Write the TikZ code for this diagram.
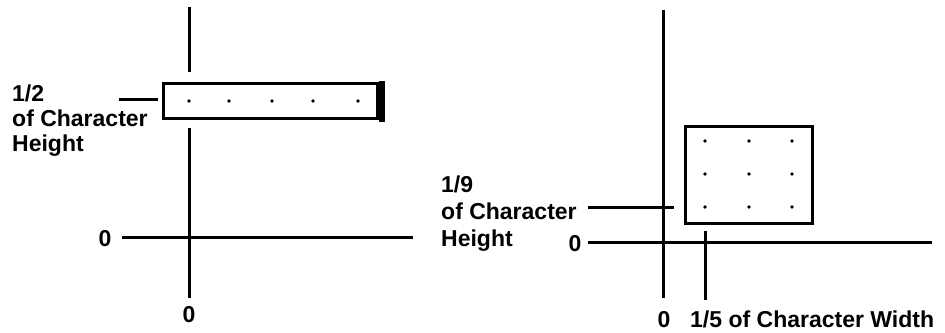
\documentclass[tikz,border=0pt]{standalone}
\usepackage{fontspec}
\setmainfont{Liberation Sans}
\usetikzlibrary{positioning}
\tikzset{every node/.append style={inner sep=0pt}}

\begin{document}
\begin{tikzpicture}[x=1pt,y=-1pt,
  axis/.style={line width=3pt},
  cell/.style={draw,line width=3pt},
  lbl/.style={font=\fontsize{23}{25}\selectfont\bfseries,align=left}]
  \useasboundingbox (0,0) rectangle (945,332);

  % superscript
  \coordinate (supup) at (189,7);
  \coordinate (supgap) at (189,72);
  \coordinate (supmid) at (189,128);
  \coordinate (supdown) at (189,298);
  \coordinate (supleft) at (122,237);
  \coordinate (supright) at (413,237);
  \coordinate (supleada) at (119,99);
  \coordinate (supleadb) at (158,99);
  \node[cell,minimum width=213.5pt,minimum height=35pt] (supbox) at (270.25,101) {};
  \draw[line width=6pt] ([xshift=3pt,yshift=1.5pt]supbox.north east) -- ([xshift=3pt,yshift=-1.5pt]supbox.south east);
  \foreach \x in {189,229,272,313,358}
    \fill (\x,101) circle (1.9);
  \draw[axis] (supup) -- (supgap);
  \draw[axis] (supmid) -- (supdown);
  \draw[axis] (supleft) -- (supright);
  \draw[axis] (supleada) -- (supleadb);
  \node[lbl,anchor=north west] (suptext) at (12,85) {1/2\\of Character\\Height};
  \node[lbl] (supzeroy) at (105,238.5) {0};
  \node[lbl] (supzerox) at (189,314.5) {0};

  % subscript
  \coordinate (subup) at (663,10);
  \coordinate (subdown) at (663,298);
  \coordinate (subleft) at (588,242);
  \coordinate (subright) at (932,242);
  \coordinate (subleada) at (588,207);
  \coordinate (subleadb) at (674,207);
  \coordinate (subticka) at (705,231);
  \coordinate (subtickb) at (705,300);
  \node[cell,minimum width=127.5pt,minimum height=97pt] (subbox) at (748.75,175) {};
  \foreach \x in {705,749,792}
    \foreach \y in {141,174,207}
      \fill (\x,\y) circle (1.9);
  \draw[axis] (subup) -- (subdown);
  \draw[axis] (subleft) -- (subright);
  \draw[axis] (subleada) -- (subleadb);
  \draw[axis] (subticka) -- (subtickb);
  \node[lbl,anchor=north west,font=\fontsize{23}{27}\selectfont\bfseries] (subtext) at (441,176) {1/9\\of Character\\Height};
  \node[lbl] (subzeroy) at (575,243.5) {0};
  \node[lbl] (subzerox) at (664,319.5) {0};
  \node[lbl,anchor=base west] (subwidth) at (690,327) {1/5 of Character Width};
\end{tikzpicture}
\end{document}
